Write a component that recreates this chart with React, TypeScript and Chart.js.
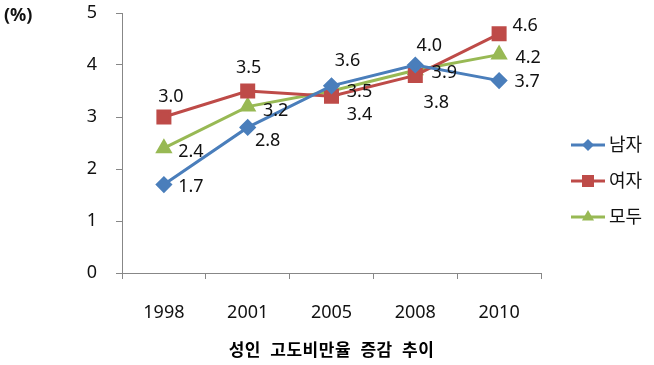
import React, { useEffect, useRef } from 'react';
import { Chart, registerables } from 'chart.js';

Chart.register(...registerables);

const YEARS = ['1998', '2001', '2005', '2008', '2010'];
const MEN = [1.7, 2.8, 3.6, 4.0, 3.7];
const WOMEN = [3.0, 3.5, 3.4, 3.8, 4.6];
const ALL = [2.4, 3.2, 3.5, 3.9, 4.2];
const SERIES_NAMES = ['남자', '여자', '모두'];
const Y_TICKS = [0, 1, 2, 3, 4, 5];
const X_TITLE = '성인 고도비만율 증감 추이';
const Y_UNIT = '(%)';

// data label offsets (px) relative to each point
const MEN_LABEL_OFFSETS = [[27, 2], [20, 13], [16, -25], [14, -19], [28, 1]];
const WOMEN_LABEL_OFFSETS = [[7, -20], [1, -23], [28, 19], [21, 27], [26, -8]];
const ALL_LABEL_OFFSETS = [[27, 4], [28, 4], [28, 1], [29, 3], [29, 3]];

const COLORS = ['#4A7EBB', '#BE4B48', '#98B954'];
const FONT = '"Noto Sans", "Noto Sans CJK KR", sans-serif';
const AXIS = '#878787';

function drawMarker(ctx: CanvasRenderingContext2D, style: string, x: number, y: number, color: string) {
  ctx.save();
  ctx.fillStyle = color;
  ctx.beginPath();
  if (style === 'rectRot') {
    const r = 6;
    ctx.moveTo(x, y - r); ctx.lineTo(x + r, y); ctx.lineTo(x, y + r); ctx.lineTo(x - r, y);
  } else if (style === 'rect') {
    const s = 6;
    ctx.rect(x - s, y - s, 2 * s, 2 * s);
  } else {
    const r = 7;
    ctx.moveTo(x, y - r);
    ctx.lineTo(x + r * Math.sin((2 * Math.PI) / 3), y - r * Math.cos((2 * Math.PI) / 3));
    ctx.lineTo(x + r * Math.sin((4 * Math.PI) / 3), y - r * Math.cos((4 * Math.PI) / 3));
  }
  ctx.closePath();
  ctx.fill();
  ctx.restore();
}

const extrasPlugin = {
  id: 'extras',
  afterDatasetsDraw(chart: any) {
    const ctx: CanvasRenderingContext2D = chart.ctx;
    const offsets = [MEN_LABEL_OFFSETS, WOMEN_LABEL_OFFSETS, ALL_LABEL_OFFSETS];
    ctx.save();
    ctx.font = `18px ${FONT}`;
    ctx.fillStyle = '#111';
    ctx.textAlign = 'center';
    ctx.textBaseline = 'middle';
    chart.data.datasets.forEach((ds: any, di: number) => {
      const meta = chart.getDatasetMeta(di);
      meta.data.forEach((pt: any, i: number) => {
        const [dx, dy] = offsets[di][i];
        ctx.fillText(Number(ds.data[i]).toFixed(1), pt.x + dx, pt.y + dy);
      });
    });
    ctx.restore();
  },
  afterDraw(chart: any) {
    const ctx: CanvasRenderingContext2D = chart.ctx;
    const area = chart.chartArea;
    ctx.save();
    // unit label
    ctx.font = `bold 18px ${FONT}`;
    ctx.fillStyle = '#111';
    ctx.textAlign = 'left';
    ctx.textBaseline = 'middle';
    ctx.fillText(Y_UNIT, 4, area.top + 3);
    // x title
    ctx.font = `bold 17px "Noto Sans CJK KR", sans-serif`;
    ctx.fillStyle = '#000';
    ctx.textAlign = 'center';
    (ctx as any).letterSpacing = '0.5px';
    (ctx as any).wordSpacing = '5px';
    ctx.fillText(X_TITLE, (area.left + area.right) / 2, area.bottom + 77);
    (ctx as any).letterSpacing = '0px';
    (ctx as any).wordSpacing = '0px';
    // legend
    const styles = ['rectRot', 'rect', 'triangle'];
    const lx = area.right + 30;
    chart.data.datasets.forEach((ds: any, i: number) => {
      const y = area.top + 132 + i * 36;
      ctx.strokeStyle = ds.borderColor;
      ctx.lineWidth = 3;
      ctx.beginPath();
      ctx.moveTo(lx, y);
      ctx.lineTo(lx + 34, y);
      ctx.stroke();
      drawMarker(ctx, styles[i], lx + 17, y, ds.borderColor);
      ctx.font = `18px ${FONT}`;
      ctx.fillStyle = '#111';
      ctx.textAlign = 'left';
      ctx.textBaseline = 'middle';
      ctx.fillText(ds.label, lx + 38, y + 1);
    });
    ctx.restore();
  },
};

export default function App() {
  const ref = useRef<HTMLCanvasElement | null>(null);
  useEffect(() => {
    if (!ref.current) return;
    const chart = new Chart(ref.current, {
      type: 'line',
      data: {
        labels: YEARS,
        datasets: [
          { label: SERIES_NAMES[0], data: MEN, borderColor: COLORS[0], backgroundColor: COLORS[0], pointStyle: 'rectRot', pointRadius: 6.5, pointHoverRadius: 6.5, borderWidth: 3, tension: 0 },
          { label: SERIES_NAMES[1], data: WOMEN, borderColor: COLORS[1], backgroundColor: COLORS[1], pointStyle: 'rect', pointRadius: 8.5, pointHoverRadius: 8.5, borderWidth: 3, tension: 0 },
          { label: SERIES_NAMES[2], data: ALL, borderColor: COLORS[2], backgroundColor: COLORS[2], pointStyle: 'triangle', pointRadius: 7, pointHoverRadius: 7, borderWidth: 3, tension: 0 },
        ],
      },
      options: {
        responsive: false,
        animation: false,
        layout: { padding: { left: 0, right: 113, top: 13, bottom: 0 } },
        plugins: { legend: { display: false }, tooltip: { enabled: false } },
        scales: {
          x: {
            type: 'category',
            offset: true,
            grid: { display: true, drawOnChartArea: false, drawTicks: true, tickLength: 6, color: AXIS, offset: true },
            border: { display: true, color: AXIS, width: 1 },
            ticks: { color: '#111', font: { family: FONT, size: 18 }, padding: 23, maxRotation: 0 },
            title: { display: false, text: X_TITLE },
            afterFit: (s: any) => { s.height = 92; s.paddingLeft = 0; s.paddingRight = 0; },
          },
          y: {
            min: 0,
            max: 5,
            grid: { display: true, drawOnChartArea: false, drawTicks: true, tickLength: 6, color: AXIS },
            border: { display: true, color: AXIS, width: 1 },
            ticks: { color: '#111', font: { family: FONT, size: 18 }, padding: 19, stepSize: 1 },
            afterBuildTicks: (s: any) => { s.ticks = Y_TICKS.map((v) => ({ value: v })); },
            afterFit: (s: any) => { s.width = 122; s.paddingTop = 0; s.paddingBottom = 0; },
          },
        },
      },
      plugins: [extrasPlugin],
    });
    return () => chart.destroy();
  }, []);
  return (
    <div style={{ position: 'fixed', left: 0, top: 0, width: 654, height: 365, background: '#fff' }}>
      <canvas ref={ref} width={654} height={365} />
    </div>
  );
}
